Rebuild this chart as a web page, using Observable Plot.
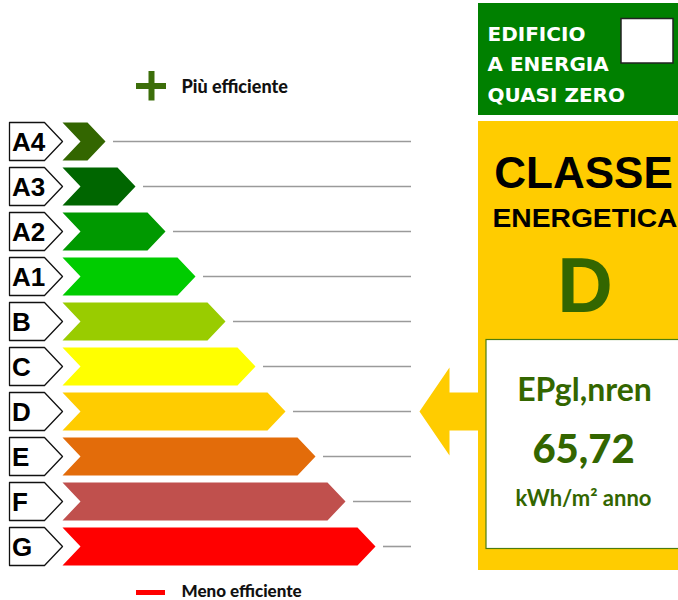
<!DOCTYPE html>
<html><head><meta charset="utf-8">
<script src="https://cdn.jsdelivr.net/npm/d3@7"></script>
<script src="https://cdn.jsdelivr.net/npm/@observablehq/plot@0.6"></script>
<style>html,body{margin:0;padding:0;background:#fff;overflow:hidden}</style>
</head><body><div id="chart"></div>
<script>
// ---- data ----
const classes = ["A4","A3","A2","A1","B","C","D","E","F","G"];
const colors  = ["#336600","#006600","#009900","#00cc00","#99cc00","#ffff00","#ffcc00","#e36c0a","#c0504d","#ff0000"];
const steps   = [1,2,3,4,5,6,7,8,9,10];
const currentClass = "D";
const epLabel = "EPgl,nren";
const epValue = "65,72";
const epUnit  = "kWh/m² anno";
const topLabel = "Più efficiente";
const bottomLabel = "Meno efficiente";
const nzebLines = ["EDIFICIO","A ENERGIA","QUASI ZERO"];
const panelTitle = "CLASSE";
const panelSub = "ENERGETICA";

// ---- layout (scale definition) ----
const W = 678, H = 600;
const X0 = 75, XS = 30;   // pixel of step 0, pixels per step
const Y0 = 141, YS = 45;  // pixel of row 0 centre, pixels per row
const ux = p => (p - X0) / XS;
const uy = p => (p - Y0) / YS;

const rows = classes.map((c, i) => ({cls: c, i, L: steps[i], color: colors[i]}));
const h = 19 / YS, s = 18 / XS, gap = 8 / XS;
const barStart = ux(62), boxLeft = ux(9), boxShoulder = ux(44), lineEnd = ux(411);

const chevrons = rows.flatMap(r => [
  [barStart, r.i - h], [r.L - s, r.i - h], [r.L, r.i], [r.L - s, r.i + h], [barStart, r.i + h], [barStart + s, r.i]
].map(([x, y]) => ({cls: r.cls, color: r.color, x, y})));

const boxes = rows.flatMap(r => [
  [boxLeft, r.i - h], [boxShoulder, r.i - h], [barStart, r.i], [boxShoulder, r.i + h], [boxLeft, r.i + h]
].map(([x, y]) => ({cls: r.cls, x, y})));

const iD = classes.indexOf(currentClass);
const head = 44 / YS;
const arrow = [
  [ux(419), iD], [ux(449), iD - head], [ux(449), iD - h], [ux(484), iD - h],
  [ux(484), iD + h], [ux(449), iD + h], [ux(449), iD + head]
].map(([x, y]) => ({x, y}));

const green = "#336600";
const futura = "Lato, 'DejaVu Sans', sans-serif";
const arial = "'Liberation Sans', Arial, sans-serif";

const chart = Plot.plot({
  width: W, height: H,
  marginLeft: X0, marginRight: W - (X0 + 10 * XS),
  marginTop: Y0 - YS / 2, marginBottom: H - (Y0 + 9.5 * YS),
  x: {domain: [0, 10], axis: null},
  y: {domain: [9.5, -0.5], axis: null},
  color: {type: "identity"},
  style: {background: "#fff"},
  marks: [
    // legend top
    Plot.ruleY([0], {y: uy(85.5), x1: ux(136), x2: ux(166), stroke: "#3c6e0a", strokeWidth: 6}),
    Plot.ruleX([0], {x: ux(151), y1: uy(71), y2: uy(100.5), stroke: "#3c6e0a", strokeWidth: 6}),
    Plot.text([topLabel], {x: ux(181), y: uy(92.7), text: d => d, textAnchor: "start", lineAnchor: "bottom", fontSize: 18, fontWeight: 900, fontFamily: futura, fill: "#111"}),
    // legend bottom
    Plot.ruleY([0], {y: uy(592), x1: ux(136), x2: ux(165), stroke: "#ff0000", strokeWidth: 5}),
    Plot.text([bottomLabel], {x: ux(181), y: uy(596), text: d => d, textAnchor: "start", lineAnchor: "bottom", fontSize: 17, fontWeight: 900, fontFamily: futura, fill: "#111"}),
    // class label boxes
    Plot.line(boxes, {x: "x", y: "y", z: "cls", curve: "linear-closed", fill: "white", stroke: "#111", strokeWidth: 1.3}),
    Plot.text(rows, {x: ux(11.5), y: "i", dy: 9.5, text: "cls", textAnchor: "start", lineAnchor: "bottom", fontSize: 26, fontWeight: "bold", fontFamily: arial, fill: "#000"}),
    // bars
    Plot.line(chevrons, {x: "x", y: "y", z: "cls", curve: "linear-closed", fill: "color", stroke: "none"}),
    // gray guide lines
    Plot.ruleY(rows, {y: "i", x1: d => d.L + gap, x2: lineEnd, stroke: "#9a9a9a", strokeWidth: 1.6}),
    // NZEB box
    Plot.rect([0], {x1: ux(478), x2: ux(690), y1: uy(3), y2: uy(115), fill: "#008000"}),
    Plot.rect([0], {x1: ux(621), x2: ux(673), y1: uy(18.5), y2: uy(63), fill: "white", stroke: "#222", strokeWidth: 1.5}),
    Plot.text(nzebLines, {x: ux(487), y: (d, k) => uy(40 + 30.5 * k), text: d => d, textAnchor: "start", lineAnchor: "bottom", fontSize: 20, fontWeight: "bold", fontFamily: "'DejaVu Sans', sans-serif", fill: "white"}),
    // class panel
    Plot.rect([0], {x1: ux(478), x2: ux(690), y1: uy(121), y2: uy(570), fill: "#ffcc00"}),
    Plot.line(arrow, {x: "x", y: "y", curve: "linear-closed", fill: "#ffcc00", stroke: "none"}),
    Plot.text([panelTitle], {x: ux(583), y: uy(187), text: d => d, lineAnchor: "bottom", fontSize: 44, fontWeight: "bold", fontFamily: arial, fill: "#000"}),
    Plot.text([panelSub], {x: ux(492), y: uy(226), text: d => d, textAnchor: "start", lineAnchor: "bottom", fontSize: 25, fontWeight: "bold", fontFamily: arial, fill: "#000"}),
    Plot.text([currentClass], {x: ux(584.5), y: uy(311.5), text: d => d, lineAnchor: "bottom", fontSize: 77, fontWeight: "bold", fontFamily: arial, fill: green}),
    Plot.rect([0], {x1: ux(486), x2: ux(700), y1: uy(339.5), y2: uy(548.5), fill: "white", stroke: "#4d7c0f", strokeWidth: 1.2}),
    Plot.text([epLabel], {x: ux(584), y: uy(400), text: d => d, lineAnchor: "bottom", fontSize: 32, fontWeight: "bold", fontFamily: futura, fill: green}),
    Plot.text([epValue], {x: ux(583), y: uy(462.7), text: d => d, lineAnchor: "bottom", fontSize: 40, fontWeight: 900, fontFamily: futura, fill: green}),
    Plot.text([epUnit], {x: ux(583), y: uy(505), text: d => d, lineAnchor: "bottom", fontSize: 22, fontWeight: "bold", fontFamily: futura, fill: green})
  ]
});

d3.select(chart).selectAll("text")
  .filter(function() { return this.textContent === panelSub; })
  .attr("textLength", 185).attr("lengthAdjust", "spacingAndGlyphs");

document.getElementById("chart").appendChild(chart);
</script>
</body></html>
